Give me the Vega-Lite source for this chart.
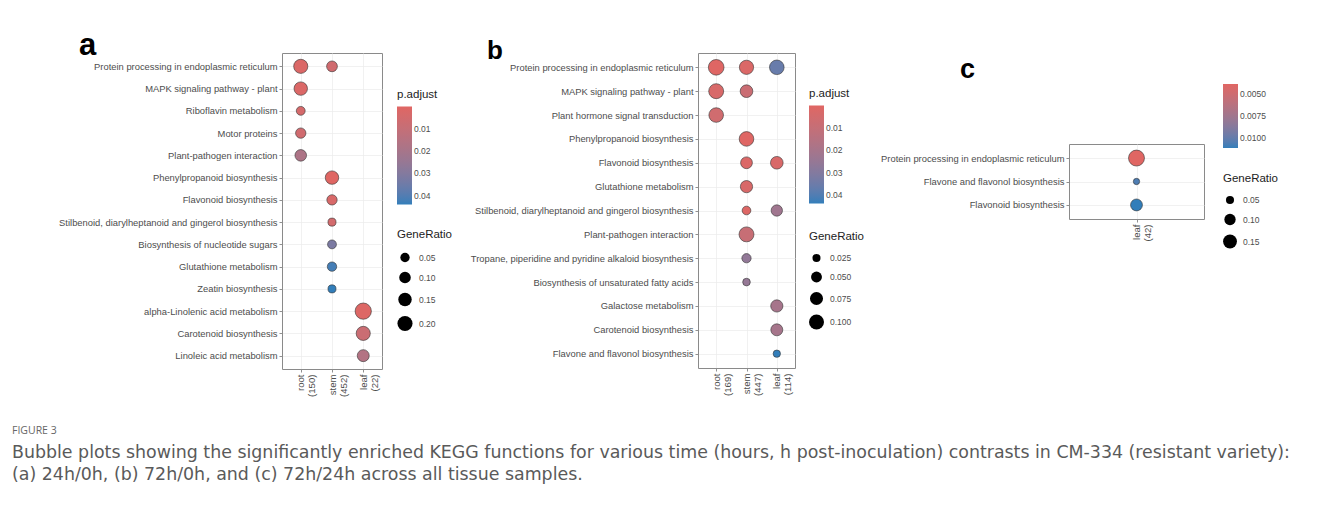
{
  "$schema": "https://vega.github.io/schema/vega-lite/v6.json",
  "background": "white",
  "padding": {"left": 12, "top": 29, "right": 5, "bottom": 5},
  "datasets": {
    "a": [
      {"term": "Protein processing in endoplasmic reticulum", "group": "root (150)", "ratio": 0.17, "p": 0.002},
      {"term": "Protein processing in endoplasmic reticulum", "group": "stem (452)", "ratio": 0.08, "p": 0.006},
      {"term": "MAPK signaling pathway - plant", "group": "root (150)", "ratio": 0.15, "p": 0.002},
      {"term": "Riboflavin metabolism", "group": "root (150)", "ratio": 0.04, "p": 0.004},
      {"term": "Motor proteins", "group": "root (150)", "ratio": 0.07, "p": 0.006},
      {"term": "Plant-pathogen interaction", "group": "root (150)", "ratio": 0.10, "p": 0.018},
      {"term": "Phenylpropanoid biosynthesis", "group": "stem (452)", "ratio": 0.15, "p": 0.0002},
      {"term": "Flavonoid biosynthesis", "group": "stem (452)", "ratio": 0.07, "p": 0.003},
      {"term": "Stilbenoid, diarylheptanoid and gingerol biosynthesis", "group": "stem (452)", "ratio": 0.025, "p": 0.005},
      {"term": "Biosynthesis of nucleotide sugars", "group": "stem (452)", "ratio": 0.04, "p": 0.032},
      {"term": "Glutathione metabolism", "group": "stem (452)", "ratio": 0.05, "p": 0.042},
      {"term": "Zeatin biosynthesis", "group": "stem (452)", "ratio": 0.025, "p": 0.044},
      {"term": "alpha-Linolenic acid metabolism", "group": "leaf (22)", "ratio": 0.24, "p": 0.001},
      {"term": "Carotenoid biosynthesis", "group": "leaf (22)", "ratio": 0.17, "p": 0.008},
      {"term": "Linoleic acid metabolism", "group": "leaf (22)", "ratio": 0.11, "p": 0.016}
    ],
    "b": [
      {"term": "Protein processing in endoplasmic reticulum", "group": "root (169)", "ratio": 0.11, "p": 0.0005},
      {"term": "Protein processing in endoplasmic reticulum", "group": "stem (447)", "ratio": 0.09, "p": 0.002},
      {"term": "Protein processing in endoplasmic reticulum", "group": "leaf (114)", "ratio": 0.095, "p": 0.036},
      {"term": "MAPK signaling pathway - plant", "group": "root (169)", "ratio": 0.10, "p": 0.003},
      {"term": "MAPK signaling pathway - plant", "group": "stem (447)", "ratio": 0.07, "p": 0.008},
      {"term": "Plant hormone signal transduction", "group": "root (169)", "ratio": 0.095, "p": 0.006},
      {"term": "Phenylpropanoid biosynthesis", "group": "stem (447)", "ratio": 0.095, "p": 0.0003},
      {"term": "Flavonoid biosynthesis", "group": "stem (447)", "ratio": 0.06, "p": 0.002},
      {"term": "Flavonoid biosynthesis", "group": "leaf (114)", "ratio": 0.07, "p": 0.003},
      {"term": "Glutathione metabolism", "group": "stem (447)", "ratio": 0.065, "p": 0.003},
      {"term": "Stilbenoid, diarylheptanoid and gingerol biosynthesis", "group": "stem (447)", "ratio": 0.03, "p": 0.001},
      {"term": "Stilbenoid, diarylheptanoid and gingerol biosynthesis", "group": "leaf (114)", "ratio": 0.055, "p": 0.022},
      {"term": "Plant-pathogen interaction", "group": "stem (447)", "ratio": 0.10, "p": 0.009},
      {"term": "Tropane, piperidine and pyridine alkaloid biosynthesis", "group": "stem (447)", "ratio": 0.035, "p": 0.026},
      {"term": "Biosynthesis of unsaturated fatty acids", "group": "stem (447)", "ratio": 0.022, "p": 0.025},
      {"term": "Galactose metabolism", "group": "leaf (114)", "ratio": 0.065, "p": 0.02},
      {"term": "Carotenoid biosynthesis", "group": "leaf (114)", "ratio": 0.062, "p": 0.02},
      {"term": "Flavone and flavonol biosynthesis", "group": "leaf (114)", "ratio": 0.02, "p": 0.0436}
    ],
    "c": [
      {"term": "Protein processing in endoplasmic reticulum", "group": "leaf (42)", "ratio": 0.2, "p": 0.00386},
      {"term": "Flavone and flavonol biosynthesis", "group": "leaf (42)", "ratio": 0.03, "p": 0.0106},
      {"term": "Flavonoid biosynthesis", "group": "leaf (42)", "ratio": 0.11, "p": 0.01114}
    ],
    "empty": []
  },
  "title": {
    "text": "FIGURE 3",
    "subtitle": [
      "Bubble plots showing the significantly enriched KEGG functions for various time (hours, h post-inoculation) contrasts in CM-334 (resistant variety):",
      "(a) 24h/0h, (b) 72h/0h, and (c) 72h/24h across all tissue samples."
    ],
    "orient": "bottom",
    "anchor": "start",
    "frame": "group",
    "dx": -270,
    "offset": 29,
    "font": "Open Sans",
    "fontSize": 10.5,
    "fontWeight": "normal",
    "color": "#666666",
    "subtitleFont": "DejaVu Sans",
    "subtitleFontSize": 17.4,
    "subtitleColor": "#5a5a5a",
    "subtitlePadding": 8,
    "subtitleLineHeight": 22
  },
  "config": {
    "view": {"stroke": "#8a8a8a", "strokeWidth": 1},
    "axis": {
      "title": null,
      "labelFont": "'Liberation Sans Narrow', 'Liberation Sans', Arial, sans-serif",
      "labelFontSize": 9.4,
      "labelColor": "#4d4d4d",
      "labelLimit": 400,
      "labelPadding": 2,
      "tickColor": "#444444",
      "tickSize": 3,
      "tickWidth": 0.6,
      "domain": false,
      "grid": true,
      "gridColor": "#ebebeb",
      "gridWidth": 0.7
    },
    "axisX": {
      "labelAngle": 270,
      "labelLineHeight": 11,
      "labelFontSize": 9.6,
      "labelExpr": "split(datum.value, ' ')"
    },
    "legend": {
      "titleFont": "'Liberation Sans Narrow', 'Liberation Sans', Arial, sans-serif",
      "titleFontSize": 11.5,
      "titleFontWeight": "normal",
      "titleColor": "#222222",
      "titlePadding": 6,
      "labelFont": "'Liberation Sans Narrow', 'Liberation Sans', Arial, sans-serif",
      "labelFontSize": 8.5,
      "labelColor": "#4d4d4d",
      "labelOffset": 6,
      "padding": 0,
      "gradientStrokeWidth": 0,
      "gradientThickness": 15,
      "symbolFillColor": "#000000",
      "symbolStrokeWidth": 0,
      "symbolOpacity": 1,
      "symbolType": "circle",
      "rowPadding": 9
    },
    "title": {
      "font": "'Liberation Sans', Arial, sans-serif",
      "fontSize": 28,
      "fontWeight": "bold",
      "color": "#000000",
      "anchor": "start",
      "frame": "group",
      "baseline": "alphabetic",
      "offset": 0
    }
  },
  "spacing": 316,
  "bounds": "flush",
  "align": "none",
  "resolve": {
    "scale": {"color": "independent", "size": "independent"},
    "legend": {"color": "independent", "size": "independent"}
  },
  "hconcat": [
    {
      "width": 100,
      "height": 316,
      "title": {"text": "a", "dx": -203, "dy": 13, "fontSize": 31},
      "data": {"name": "a"},
      "mark": {"type": "circle", "stroke": "#333333", "strokeWidth": 0.6, "opacity": 1},
      "encoding": {
        "x": {"field": "group", "type": "nominal",
              "scale": {"type": "point", "padding": 0.6, "domain": ["root (150)", "stem (452)", "leaf (22)"]}},
        "y": {"field": "term", "type": "nominal",
              "scale": {"type": "point", "padding": 0.6, "domain": [
                "Protein processing in endoplasmic reticulum",
                "MAPK signaling pathway - plant",
                "Riboflavin metabolism",
                "Motor proteins",
                "Plant-pathogen interaction",
                "Phenylpropanoid biosynthesis",
                "Flavonoid biosynthesis",
                "Stilbenoid, diarylheptanoid and gingerol biosynthesis",
                "Biosynthesis of nucleotide sugars",
                "Glutathione metabolism",
                "Zeatin biosynthesis",
                "alpha-Linolenic acid metabolism",
                "Carotenoid biosynthesis",
                "Linoleic acid metabolism"]}},
        "color": {"field": "p", "type": "quantitative",
                  "scale": {"domain": [0.044, 0], "range": ["#327eba", "#e06663"], "interpolate": "lab", "nice": false, "zero": false},
                  "legend": {"title": "p.adjust", "orient": "none", "legendX": 115, "legendY": 36,
                             "values": [0.01, 0.02, 0.03, 0.04], "format": ".2f", "gradientLength": 98, "direction": "vertical"}},
        "size": {"field": "ratio", "type": "quantitative",
                 "scale": {"domain": [0.02, 0.24], "range": [60, 265], "zero": false, "nice": false},
                 "legend": {"title": "GeneRatio", "orient": "none", "legendX": 115, "legendY": 176, "titlePadding": 12,
                            "values": [0.05, 0.10, 0.15, 0.20], "format": ".2f",
                            "encode": {"symbols": {"update": {"fill": {"value": "#000000"}, "stroke": {"value": "transparent"}, "opacity": {"value": 1}}}}}}
      }
    },
    {
      "spacing": 274,
      "bounds": "flush",
      "align": "none",
      "resolve": {
        "scale": {"color": "independent", "size": "independent"},
        "legend": {"color": "independent", "size": "independent"}
      },
      "hconcat": [
        {
          "width": 97,
          "height": 315,
          "title": {"text": "b", "dx": -211, "dy": 15, "fontSize": 26},
          "data": {"name": "b"},
          "mark": {"type": "circle", "stroke": "#333333", "strokeWidth": 0.6, "opacity": 1},
          "encoding": {
            "x": {"field": "group", "type": "nominal",
                  "scale": {"type": "point", "padding": 0.6, "domain": ["root (169)", "stem (447)", "leaf (114)"]}},
            "y": {"field": "term", "type": "nominal",
                  "scale": {"type": "point", "padding": 0.6, "domain": [
                    "Protein processing in endoplasmic reticulum",
                    "MAPK signaling pathway - plant",
                    "Plant hormone signal transduction",
                    "Phenylpropanoid biosynthesis",
                    "Flavonoid biosynthesis",
                    "Glutathione metabolism",
                    "Stilbenoid, diarylheptanoid and gingerol biosynthesis",
                    "Plant-pathogen interaction",
                    "Tropane, piperidine and pyridine alkaloid biosynthesis",
                    "Biosynthesis of unsaturated fatty acids",
                    "Galactose metabolism",
                    "Carotenoid biosynthesis",
                    "Flavone and flavonol biosynthesis"]}},
            "color": {"field": "p", "type": "quantitative",
                      "scale": {"domain": [0.0436, 0], "range": ["#327eba", "#e06663"], "interpolate": "lab", "nice": false, "zero": false},
                      "legend": {"title": "p.adjust", "orient": "none", "legendX": 111, "legendY": 35,
                                 "values": [0.01, 0.02, 0.03, 0.04], "format": ".2f", "gradientLength": 98, "direction": "vertical"}},
            "size": {"field": "ratio", "type": "quantitative",
                     "scale": {"domain": [0.018, 0.11], "range": [50, 245], "zero": false, "nice": false},
                     "legend": {"title": "GeneRatio", "orient": "none", "legendX": 111, "legendY": 178, "titlePadding": 11,
                                "values": [0.025, 0.05, 0.075, 0.1], "format": ".3f",
                                "encode": {"symbols": {"update": {"fill": {"value": "#000000"}, "stroke": {"value": "transparent"}, "opacity": {"value": 1}}}}}}
          }
        },
        {
          "spacing": 61,
          "bounds": "flush",
          "align": "none",
          "vconcat": [
            {
              "width": 135,
              "height": 30,
              "view": {"stroke": null},
              "title": {"text": "c", "dx": -109, "dy": 35, "fontSize": 27},
              "data": {"name": "empty"},
              "mark": "point"
            },
            {
              "width": 135,
              "height": 75,
              "data": {"name": "c"},
              "mark": {"type": "circle", "stroke": "#333333", "strokeWidth": 0.6, "opacity": 1},
              "encoding": {
                "x": {"field": "group", "type": "nominal",
                      "scale": {"type": "point", "padding": 0.6, "domain": ["leaf (42)"]}},
                "y": {"field": "term", "type": "nominal",
                      "scale": {"type": "point", "padding": 0.6, "domain": [
                        "Protein processing in endoplasmic reticulum",
                        "Flavone and flavonol biosynthesis",
                        "Flavonoid biosynthesis"]}},
                "color": {"field": "p", "type": "quantitative",
                          "scale": {"domain": [0.01114, 0.00386], "range": ["#327eba", "#e06663"], "interpolate": "lab", "nice": false, "zero": false},
                          "legend": {"title": null, "orient": "none", "legendX": 154, "legendY": 31,
                                     "values": [0.005, 0.0075, 0.01], "format": ".4f", "gradientLength": 64, "direction": "vertical"}},
                "size": {"field": "ratio", "type": "quantitative",
                         "scale": {"domain": [0.03, 0.2], "range": [40, 255], "zero": false, "nice": false},
                         "legend": {"title": "GeneRatio", "orient": "none", "legendX": 154, "legendY": 120, "titlePadding": 11,
                                    "values": [0.05, 0.10, 0.15], "format": ".2f",
                                    "encode": {"symbols": {"update": {"fill": {"value": "#000000"}, "stroke": {"value": "transparent"}, "opacity": {"value": 1}}}}}}
              }
            }
          ]
        }
      ]
    }
  ]
}
